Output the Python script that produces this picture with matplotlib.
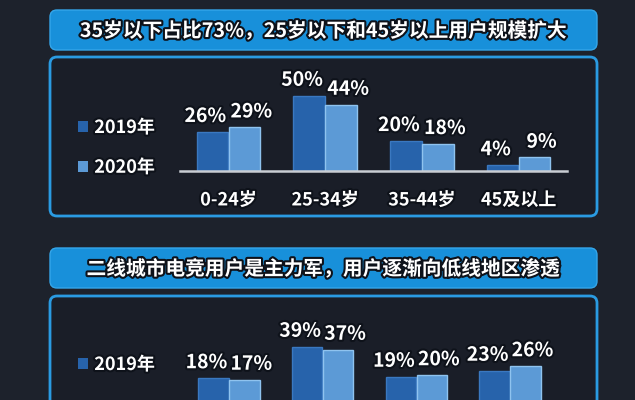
import numpy as np
import matplotlib
matplotlib.use('Agg')
import matplotlib.pyplot as plt
from matplotlib.patches import FancyBboxPatch
import matplotlib.patheffects as pe

plt.rcParams['font.family'] = ['Noto Sans CJK SC', 'DejaVu Sans']

# ---------------------------------------------------------------------------
# data
# ---------------------------------------------------------------------------
title_age = '35岁以下占比73%，25岁以下和45岁以上用户规模扩大'
age_cats = ['0-24岁', '25-34岁', '35-44岁', '45及以上']
age_2019 = [26, 50, 20, 4]
age_2020 = [29, 44, 18, 9]

title_city = '二线城市电竞用户是主力军，用户逐渐向低线地区渗透'
city_2019 = [18, 39, 19, 23]
city_2020 = [17, 37, 20, 26]

series_names = ['2019年', '2020年']

# ---------------------------------------------------------------------------
# style
# ---------------------------------------------------------------------------
W, H = 635, 400
BG = '#1d222c'
PANEL = '#1a1e28'
BANNER = '#1890da'
BORDER = '#2a9be2'
C19, E19 = '#2763ab', '#3a78c0'
C20, E20 = '#5c9ad6', '#8fc3ef'
BASE = '#c9cdd3'
outline = [pe.withStroke(linewidth=3, foreground='#0e121a')]

fig = plt.figure(figsize=(W / 100, H / 100), dpi=100)
fig.patch.set_facecolor(BG)

# background layer in pixel coords
bg = fig.add_axes([0, 0, 1, 1])
bg.set_xlim(0, W)
bg.set_ylim(H, 0)
bg.axis('off')


def banner(y0, y1, text):
    bg.add_patch(FancyBboxPatch((50, y0), 547, y1 - y0,
                                boxstyle='round,pad=0,rounding_size=7',
                                fc=BANNER, ec='#34a6ea', lw=1))
    bg.text(323.5, (y0 + y1) / 2 + 1, text, color='white', fontsize=14.2,
            fontweight='bold', ha='center', va='center', path_effects=outline)


def panel(y0, y1):
    bg.add_patch(FancyBboxPatch((50, y0), 547, y1 - y0,
                                boxstyle='round,pad=0,rounding_size=7',
                                fc=PANEL, ec=BORDER, lw=2))


banner(10, 50, title_age)
panel(57, 216)
banner(248, 288, title_city)
panel(296, 440)


def bar_chart(left, width, base, px_per, v19, v20, cats, leg_y, n_leg):
    ax = fig.add_axes([left / W, (H - base) / H, width / W, 60 * px_per / H])
    ax.patch.set_alpha(0)
    x = np.arange(len(v19))
    bw = 0.325
    b1 = ax.bar(x - bw / 2 - 0.003, v19, bw, color=C19, edgecolor=E19, lw=1,
                label=series_names[0])
    b2 = ax.bar(x + bw / 2 + 0.003, v20, bw, color=C20, edgecolor=E20, lw=1,
                label=series_names[1])
    # value labels, nudged outward so neighbouring labels don't collide
    for bars, vals, dx in [(b1, v19, -5), (b2, v20, 5)]:
        for rect, v in zip(bars, vals):
            ax.annotate(f'{v}%', (rect.get_x() + rect.get_width() / 2, v),
                        xytext=(dx, 11), textcoords='offset points',
                        ha='center', va='center', color='white', fontsize=14,
                        fontweight='bold', path_effects=outline,
                        annotation_clip=False)
    ax.set_xlim(-0.5, len(v19) - 0.5)
    ax.set_ylim(0, 60)
    ax.set_yticks([])
    for s in ['top', 'left', 'right']:
        ax.spines[s].set_visible(False)
    ax.spines['bottom'].set_color(BASE)
    ax.spines['bottom'].set_linewidth(1.8)
    ax.set_xticks(x)
    if cats:
        ax.set_xticklabels(cats, color='white', fontsize=13, fontweight='bold')
        for t in ax.get_xticklabels():
            t.set_path_effects(outline)
    else:
        ax.set_xticklabels([])
    ax.tick_params(axis='x', length=0, pad=14)
    leg = ax.legend(handles=[b1, b2][:n_leg], loc='upper left',
                    bbox_to_anchor=(78 / W, (H - leg_y) / H),
                    bbox_transform=fig.transFigure, frameon=False,
                    fontsize=13, labelspacing=1.15, handlelength=0.55,
                    handleheight=0.55, handletextpad=0.35, borderpad=0,
                    borderaxespad=0)
    for t in leg.get_texts():
        t.set_color('white')
        t.set_fontweight('bold')
        t.set_path_effects(outline)
    for h in leg.legend_handles:
        h.set_edgecolor('none')
    return ax


bar_chart(180, 387, 171, 1.51, age_2019, age_2020, age_cats, 118, 2)
# lower panel is cropped by the image edge: only the 2019 legend entry shows
bar_chart(182, 375, 405, 1.5, city_2019, city_2020, None, 355, 1)

fig.savefig('out.png', dpi=100, facecolor=BG)
